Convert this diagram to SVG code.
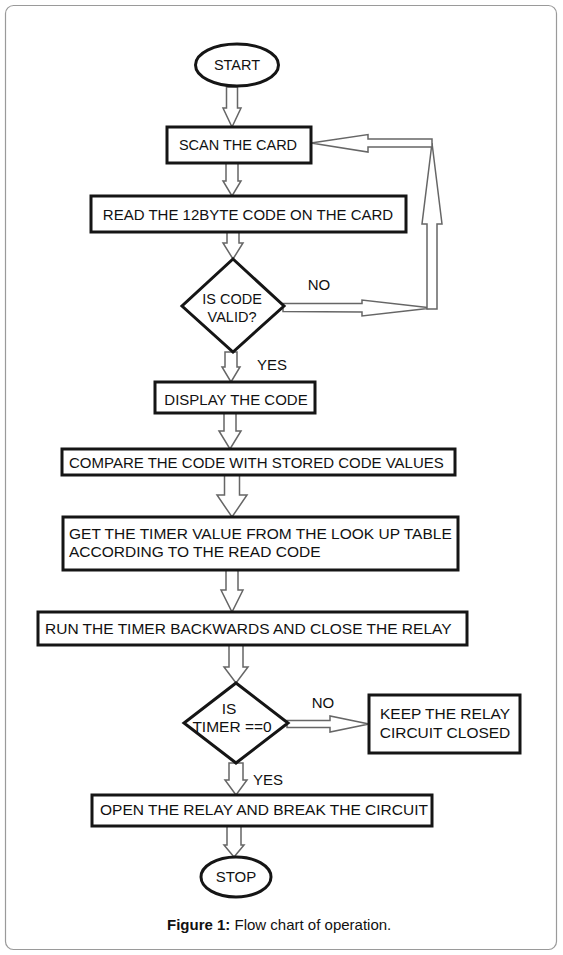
<svg xmlns="http://www.w3.org/2000/svg" width="563" height="955" viewBox="0 0 563 955">
<style>
text{font-family:"Liberation Sans",Arial,sans-serif;font-size:15px;fill:#111}
.c{text-anchor:middle}
.l{font-size:15.5px}
.s{font-size:14.5px}
.box{fill:#fff;stroke:#151515;stroke-width:3}
.term{fill:#fff;stroke:#151515;stroke-width:3}
.arr{fill:#fff;stroke:#666;stroke-width:1.5;stroke-linejoin:miter}
</style>
<rect x="5.5" y="5.5" width="551" height="944" rx="8" fill="#fff" stroke="#9a9a9a" stroke-width="1.2"/>
<g id="connectors">
<polygon class="arr" points="226.5,87 237.5,87 237.5,108 241,108 232,127 223,108 226.5,108"/>
<polygon class="arr" points="226,163 238,163 238,181 241,181 232,196 223,181 226,181"/>
<polygon class="arr" points="227,232 239,232 239,243 243,243 233,259 223,243 227,243"/>
<polygon class="arr" points="225,352 237,352 237,367 240,367 231,382 222,367 225,367"/>
<polygon class="arr" points="224,413 236,413 236,431 241,431 230,449 219,431 224,431"/>
<polygon class="arr" points="224.5,475 239.5,475 239.5,495 247,495 232,517 217,495 224.5,495"/>
<polygon class="arr" points="226,570 238,570 238,590 243,590 232,612 221,590 226,590"/>
<polygon class="arr" points="229,645 243,645 243,667 248,667 236,683 224,667 229,667"/>
<polygon class="arr" points="229,763 243,763 243,780 247,780 236,795 225,780 229,780"/>
<polygon class="arr" points="227,826 241,826 241,845 244,845 234,857 224,845 227,845"/>
<polygon class="arr" points="283,303.5 362,303.5 362,300 432,308 362,316 362,312 283,311.5"/>
<polygon class="arr" points="437,309 427,309 427,224 422,224 432,143 442,224 437,224"/>
<polygon class="arr" points="432,139 368,139 368,134.5 311,143 368,152 368,147 432,147"/>
<polygon class="arr" points="287,720.5 330,720.5 330,716 369,724 330,732 330,727.5 287,727.5"/>
</g>
<g id="start"><ellipse class="term" cx="237" cy="65" rx="41.5" ry="21"/><text class="c s" x="237" y="70">START</text></g>
<g id="scan"><rect class="box" x="167" y="127" width="144" height="36"/><text class="c s" x="238" y="150">SCAN THE CARD</text></g>
<g id="read"><rect class="box" x="91" y="196" width="315" height="36"/><text class="c" x="248" y="220">READ THE 12BYTE CODE ON THE CARD</text></g>
<g id="valid"><polygon class="box" points="233,259 284,306 233,352 182,306"/><text class="c s" x="232" y="304">IS CODE</text><text class="c s" x="232" y="322">VALID?</text></g>
<g id="no1"><text class="c" x="319" y="290">NO</text></g>
<g id="yes1"><text class="c" x="272" y="370">YES</text></g>
<g id="display"><rect class="box" x="155" y="382" width="160" height="31"/><text class="c" x="236" y="405">DISPLAY THE CODE</text></g>
<g id="compare"><rect class="box" x="62" y="449" width="393" height="26"/><text x="69" y="468">COMPARE THE CODE WITH STORED CODE VALUES</text></g>
<g id="get"><rect class="box" x="63" y="517" width="395" height="53"/><text class="l" x="69" y="539">GET THE TIMER VALUE FROM THE LOOK UP TABLE</text><text class="l" x="69" y="557">ACCORDING TO THE READ CODE</text></g>
<g id="run"><rect class="box" x="38" y="612" width="429" height="33"/><text class="l" x="45" y="634">RUN THE TIMER BACKWARDS AND CLOSE THE RELAY</text></g>
<g id="timer"><polygon class="box" points="236,683 288,723 236,763 184,723"/><text class="c l" x="229" y="714">IS</text><text class="c l" x="232" y="732">TIMER ==0</text></g>
<g id="no2"><text class="c" x="323" y="708">NO</text></g>
<g id="keep"><rect class="box" x="369" y="695" width="151" height="58"/><text class="c l" x="445" y="719">KEEP THE RELAY</text><text class="c l" x="445" y="738">CIRCUIT CLOSED</text></g>
<g id="yes2"><text class="c" x="268" y="785">YES</text></g>
<g id="open"><rect class="box" x="92" y="795" width="340" height="31"/><text class="c l" x="264" y="815">OPEN THE RELAY AND BREAK THE CIRCUIT</text></g>
<g id="stop"><ellipse class="term" cx="236" cy="877" rx="35" ry="20"/><text class="c" x="236" y="882">STOP</text></g>
<g id="caption"><text x="167" y="930"><tspan font-weight="bold">Figure 1:</tspan> Flow chart of operation.</text></g>
</svg>
